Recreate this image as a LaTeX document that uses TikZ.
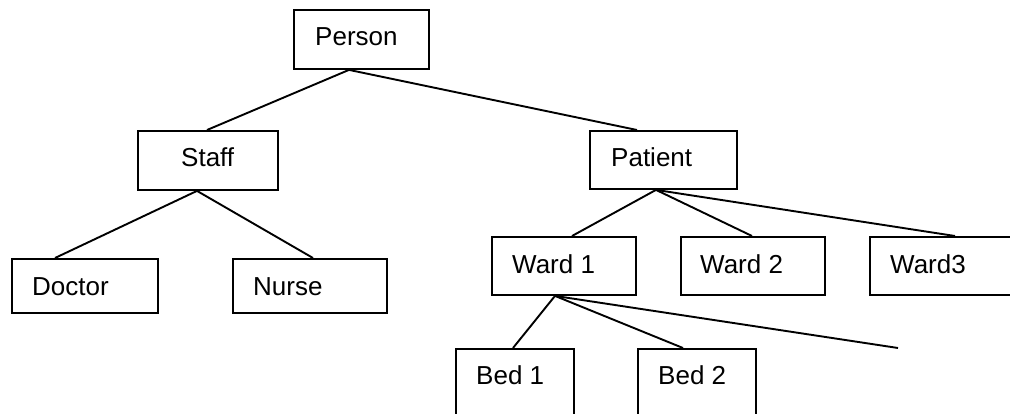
\documentclass[tikz,border=0pt]{standalone}
\usepackage{fontspec}
\setmainfont{Liberation Sans}
\begin{document}
\begin{tikzpicture}[x=1pt,y=-1pt,
  box/.style={draw=black, line width=1.9pt, rectangle, inner sep=0pt, anchor=north west},
  lbl/.style={inner sep=0pt, anchor=base west, font=\fontsize{26}{30}\selectfont},
  conn/.style={line width=1.9pt}]
\useasboundingbox (0,0) rectangle (1010,414);
% boxes
\node[box, minimum width=135pt, minimum height=59pt] (person) at (293,9) {};
\node[box, minimum width=140pt, minimum height=59pt] (staff) at (137,130) {};
\node[box, minimum width=147pt, minimum height=58pt] (patient) at (589,130) {};
\node[box, minimum width=146pt, minimum height=54pt] (doctor) at (11,258) {};
\node[box, minimum width=154pt, minimum height=54pt] (nurse) at (232,258) {};
\node[box, minimum width=144pt, minimum height=58pt] (ward1) at (491,236) {};
\node[box, minimum width=144pt, minimum height=58pt] (ward2) at (680,236) {};
\node[box, minimum width=160pt, minimum height=58pt] (ward3) at (869,236) {};
\node[box, minimum width=118pt, minimum height=80pt] (bed1) at (455,348) {};
\node[box, minimum width=118pt, minimum height=80pt] (bed2) at (637,348) {};
% labels
\node[lbl] (personT) at (315,46) {Person};
\node[lbl] (staffT) at (181,167) {Staff};
\node[lbl] (patientT) at (611,167) {Patient};
\node[lbl] (doctorT) at (32,295) {Doctor};
\node[lbl] (nurseT) at (253,295) {Nurse};
\node[lbl] (ward1T) at (512,273) {Ward 1};
\node[lbl] (ward2T) at (700,273) {Ward 2};
\node[lbl] (ward3T) at (890,273) {Ward3};
\node[lbl] (bed1T) at (476,384) {Bed 1};
\node[lbl] (bed2T) at (658,384) {Bed 2};
\coordinate (freeend) at (898,348);
% connectors
\draw[conn] ([xshift=56pt]person.south west) -- ([xshift=70pt]staff.north west);
\draw[conn] ([xshift=56pt]person.south west) -- ([xshift=48pt]patient.north west);
\draw[conn] ([xshift=60pt]staff.south west) -- ([xshift=44pt]doctor.north west);
\draw[conn] ([xshift=60pt]staff.south west) -- ([xshift=81pt]nurse.north west);
\draw[conn] ([xshift=67pt]patient.south west) -- ([xshift=81pt]ward1.north west);
\draw[conn] ([xshift=67pt]patient.south west) -- ([xshift=72pt]ward2.north west);
\draw[conn] ([xshift=67pt]patient.south west) -- ([xshift=86pt]ward3.north west);
\draw[conn] ([xshift=64pt]ward1.south west) -- ([xshift=58pt]bed1.north west);
\draw[conn] ([xshift=64pt]ward1.south west) -- ([xshift=46pt]bed2.north west);
\draw[conn] ([xshift=64pt]ward1.south west) -- (freeend);
\end{tikzpicture}
\end{document}
